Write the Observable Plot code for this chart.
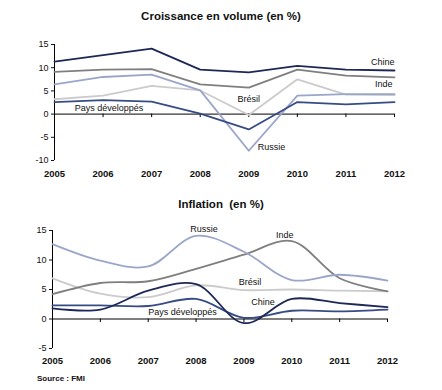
<!DOCTYPE html>
<html>
<head>
<meta charset="utf-8">
<script src="https://cdn.jsdelivr.net/npm/d3@7"></script>
<script src="https://cdn.jsdelivr.net/npm/@observablehq/plot@0.6"></script>
<style>
  body { margin: 0; background: #fff; font-family: "Liberation Sans", Arial, sans-serif; }
  #wrap { position: relative; width: 442px; height: 390px; overflow: hidden; }
  .title { position: absolute; left: 0; width: 442px; text-align: center; font-weight: bold; font-size: 11.5px; color: #111; line-height: 14px; }
  .chart { position: absolute; left: 0; }
  #source { position: absolute; left: 37px; top: 374px; font-size: 8px; font-weight: bold; color: #111; line-height: 10px; }
</style>
</head>
<body>
<div id="wrap">
  <div class="title" style="top:9px">Croissance en volume (en %)</div>
  <div class="chart" id="c1" style="top:30px"></div>
  <div class="title" style="top:197px">Inflation&nbsp; (en %)</div>
  <div class="chart" id="c2" style="top:215px"></div>
  <div id="source">Source : FMI</div>
</div>
<script>
const years = [2005, 2006, 2007, 2008, 2009, 2010, 2011, 2012];
const series = ["Chine", "Inde", "Russie", "Brésil", "Pays développés"];

// Croissance en volume (en %)
const croisChine  = [11.3, 12.7, 14.1, 9.6, 9.0, 10.4, 9.6, 9.4];
const croisInde   = [9.1, 9.6, 9.7, 6.4, 5.7, 9.6, 8.3, 7.9];
const croisRussie = [6.4, 8.0, 8.5, 5.1, -7.9, 4.0, 4.3, 4.3];
const croisBresil = [3.2, 4.0, 6.1, 5.1, -0.2, 7.5, 4.2, 4.1];
const croisPD     = [2.6, 3.0, 2.7, 0.1, -3.3, 2.6, 2.1, 2.6];
const croisTicks  = [-10, -5, 0, 5, 10, 15];

// Inflation (en %)
const inflChine  = [1.8, 1.6, 4.8, 5.9, -0.7, 3.4, 2.7, 2.0];
const inflInde   = [4.2, 6.1, 6.4, 8.5, 10.9, 13.2, 6.9, 4.7];
const inflRussie = [12.7, 9.9, 8.9, 14.1, 11.4, 6.6, 7.5, 6.5];
const inflBresil = [6.9, 4.3, 3.7, 5.7, 4.9, 5.0, 4.8, 4.7];
const inflPD     = [2.3, 2.3, 2.2, 3.4, 0.2, 1.4, 1.3, 1.6];
const inflTicks  = [-5, 0, 5, 10, 15];

const colors = {
  "Chine": "#1d2857",
  "Inde": "#7f7f7f",
  "Russie": "#9aa6c9",
  "Brésil": "#cbcbcb",
  "Pays développés": "#364c83"
};
const drawOrder = ["Brésil", "Inde", "Russie", "Pays développés", "Chine"];

function tidy(map) {
  const rows = [];
  for (const [name, vals] of Object.entries(map)) {
    vals.forEach((v, i) => rows.push({serie: name, year: years[i], value: v}));
  }
  return rows;
}

const crois = tidy({"Chine": croisChine, "Inde": croisInde, "Russie": croisRussie, "Brésil": croisBresil, "Pays développés": croisPD});
const infl = tidy({"Chine": inflChine, "Inde": inflInde, "Russie": inflRussie, "Brésil": inflBresil, "Pays développés": inflPD});

function lab(rows, name, year, opts) {
  return Plot.text(rows.filter(d => d.serie === name && d.year === year), {
    x: "year", y: "value", text: () => name, fontSize: 9, fill: "#111", ...opts
  });
}

function lines(rows, curve) {
  return drawOrder.map(name =>
    Plot.line(rows.filter(d => d.serie === name), {
      x: "year", y: "value", stroke: colors[name], strokeWidth: 1.8, curve
    }));
}

function base(ticks, tickPadding) {
  const lo = ticks[0], hi = ticks[ticks.length - 1];
  return [
    Plot.ruleY([0], {stroke: "#000", strokeWidth: 1}),
    Plot.ruleX(years.slice(1), {x: d => d, y1: 0, y2: -0.75 * (hi - lo) / 25, stroke: "#000"}),
    Plot.ruleX([years[0]], {x: d => d, y1: lo, y2: hi, stroke: "#000"}),
    Plot.axisY({ticks, tickSize: 3, tickPadding: 3, label: null, fontSize: 9, tickFormat: d => String(d)}),
    Plot.axisX({ticks: years, tickSize: 0, tickPadding, label: null, fontSize: 9.5, fontWeight: "bold", tickFormat: d => String(d)})
  ];
}

const p1 = Plot.plot({
  width: 442, height: 155,
  marginLeft: 54, marginRight: 48, marginTop: 14, marginBottom: 25,
  x: {type: "linear", domain: [2005, 2012]},
  y: {domain: [-10, 15]},
  style: {fontFamily: "'Liberation Sans', Arial, sans-serif", color: "#111", background: "transparent", overflow: "visible"},
  marks: [
    ...base(croisTicks, 10),
    ...lines(crois, "linear"),
    lab(crois, "Chine", 2012, {textAnchor: "end", dy: -8}),
    lab(crois, "Inde", 2012, {textAnchor: "end", dx: -2, dy: 7}),
    lab(crois, "Brésil", 2009, {textAnchor: "middle", dy: -16}),
    lab(crois, "Russie", 2009, {textAnchor: "start", dx: 9, dy: -4}),
    lab(crois, "Pays développés", 2006, {textAnchor: "middle", dx: 6, dy: 8})
  ]
});
document.getElementById("c1").appendChild(p1);

const p2 = Plot.plot({
  width: 442, height: 155,
  marginLeft: 52, marginRight: 55, marginTop: 15, marginBottom: 22,
  x: {type: "linear", domain: [2005, 2012]},
  y: {domain: [-5, 15]},
  style: {fontFamily: "'Liberation Sans', Arial, sans-serif", color: "#111", background: "transparent", overflow: "visible"},
  marks: [
    ...base(inflTicks, 9),
    ...lines(infl, "catmull-rom"),
    lab(infl, "Russie", 2008, {textAnchor: "middle", dx: 8, dy: -7}),
    lab(infl, "Inde", 2010, {textAnchor: "middle", dx: -7, dy: -6}),
    lab(infl, "Brésil", 2009, {textAnchor: "middle", dx: 6, dy: -8}),
    lab(infl, "Chine", 2010, {textAnchor: "end", dx: -17, dy: 3}),
    lab(infl, "Pays développés", 2007, {textAnchor: "start", dx: 0, dy: 6})
  ]
});
document.getElementById("c2").appendChild(p2);
</script>
</body>
</html>
